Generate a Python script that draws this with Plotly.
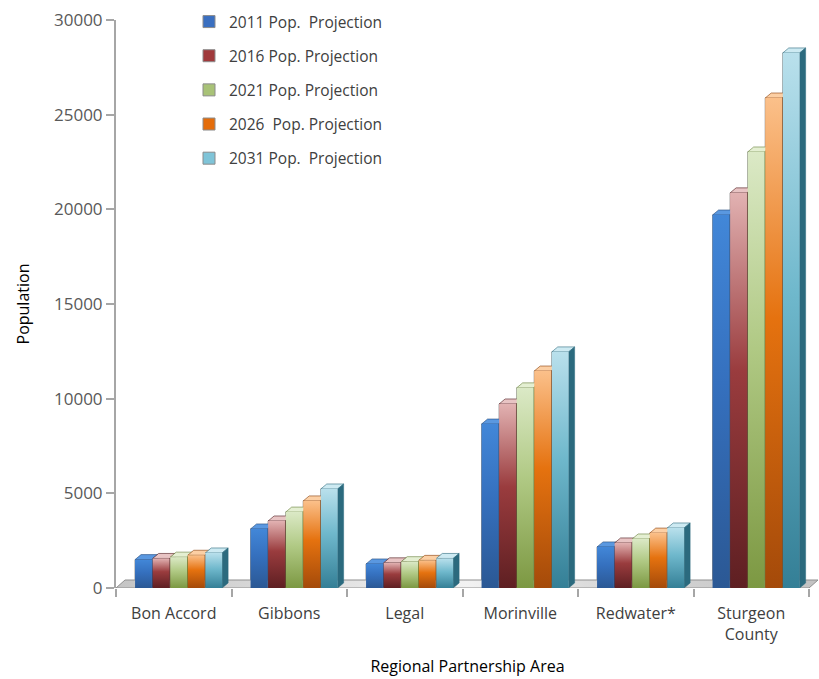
import plotly.graph_objects as go

# Regional population projections by municipality
areas = ["Bon Accord", "Gibbons", "Legal", "Morinville", "Redwater*", "Sturgeon<br>County"]
series_names = [
    "2011 Pop.  Projection",
    "2016 Pop. Projection",
    "2021 Pop. Projection",
    "2026  Pop. Projection",
    "2031 Pop.  Projection",
]
pop_2011 = [1500, 3120, 1270, 8660, 2170, 19700]
pop_2016 = [1560, 3540, 1330, 9720, 2380, 20870]
pop_2021 = [1630, 4010, 1390, 10570, 2590, 23030]
pop_2026 = [1730, 4600, 1460, 11460, 2900, 25880]
pop_2031 = [1850, 5230, 1560, 12470, 3170, 28260]
y_ticks = [0, 5000, 10000, 15000, 20000, 25000, 30000]

values = [pop_2011, pop_2016, pop_2021, pop_2026, pop_2031]

# colour ramps per series: (bottom, middle, top) of the front face, side face, top face, legend swatch
palette = [
    dict(bot="#2b5894", mid="#3570be", top="#4287d8", side="#234a7c", cap="#5a98e0", solid="#3a6fc0"),
    dict(bot="#5e1f22", mid="#9a3c3e", top="#e2b2b2", side="#4e1a1c", cap="#e8c4c4", solid="#a0393b"),
    dict(bot="#7c9842", mid="#b0c984", top="#dbe9c6", side="#66803a", cap="#e4efd2", solid="#a8c277"),
    dict(bot="#a44a0a", mid="#e5720f", top="#fbc08a", side="#8a3e08", cap="#fccfa4", solid="#e46c0a"),
    dict(bot="#347f96", mid="#6fb8cc", top="#b9e0ec", side="#2b6a7e", cap="#cdeaf2", solid="#7fc4d8"),
]

# geometry in axis units (one unit per category)
W_PX, H_PX = 819, 679
M_L, M_T, M_B, M_R = 116, 20, 91, 0
plot_w = W_PX - M_L - M_R
plot_h = H_PX - M_T - M_B
unit_px = 115.5
x_max = plot_w / unit_px
y_max = 30000
px_x = 1.0 / unit_px
px_y = y_max / plot_h

first_off = 0.165
step = 0.152
bar_w = 0.146
depth_x = 6 * px_x
depth_y = 5 * px_y

centers = [i + 0.5 for i in range(len(areas))]

fig = go.Figure()

# floor slab
n = len(areas)
fdx, fdy = 9 * px_x, 8 * px_y
fig.add_trace(go.Scatter(
    x=[0, n, n + fdx, fdx, 0], y=[0, 0, fdy, fdy, 0],
    fill="toself", mode="lines", line=dict(color="#8f8f8f", width=1),
    fillgradient=dict(type="horizontal", colorscale=[[0, "#c4c4c4"], [0.3, "#e0e0e0"], [0.5, "#f2f2f2"], [0.7, "#d8d8d8"], [1, "#c2c2c2"]]),
    hoverinfo="skip", showlegend=False,
))

# legend-carrying bar traces
for j, (name, vals) in enumerate(zip(series_names, values)):
    fig.add_trace(go.Bar(
        x=centers, y=vals, name=name,
        width=bar_w, offset=first_off + j * step - 0.5,
        marker=dict(color=palette[j]["solid"], line=dict(color="#8c8c8c", width=1)),
        legendgroup=name,
    ))

# 3D faces of each bar
for i in range(n):
    for j in range(len(values)):
        v = values[j][i]
        c = palette[j]
        x0 = i + first_off + j * step
        x1 = x0 + bar_w
        # top face
        fig.add_trace(go.Scatter(
            x=[x0, x1, x1 + depth_x, x0 + depth_x, x0],
            y=[v, v, v + depth_y, v + depth_y, v],
            fill="toself", mode="lines", fillcolor=c["cap"],
            line=dict(color=c["side"], width=0.6),
            hoverinfo="skip", showlegend=False,
        ))
        # side face
        fig.add_trace(go.Scatter(
            x=[x1, x1 + depth_x, x1 + depth_x, x1, x1],
            y=[0, depth_y, v + depth_y, v, 0],
            fill="toself", mode="lines", fillcolor=c["side"],
            line=dict(color=c["side"], width=0.5),
            hoverinfo="skip", showlegend=False,
        ))
        # front face with vertical gradient
        fig.add_trace(go.Scatter(
            x=[x0, x1, x1, x0, x0],
            y=[0, 0, v, v, 0],
            fill="toself", mode="lines", line=dict(width=0),
            fillgradient=dict(type="vertical",
                              colorscale=[[0, c["bot"]], [0.55, c["mid"]], [1, c["top"]]]),
            hoverinfo="skip", showlegend=False,
        ))

fig.update_layout(
    width=W_PX, height=H_PX,
    margin=dict(l=M_L, r=M_R, t=M_T, b=M_B),
    paper_bgcolor="white", plot_bgcolor="white",
    showlegend=True,
    barmode="overlay",
    font=dict(family="Open Sans", size=15, color="#404040"),
    legend=dict(
        x=(189 - M_L) / plot_w, y=1 + (M_T - 5) / plot_h,
        xanchor="left", yanchor="top",
        bgcolor="rgba(0,0,0,0)", itemwidth=30,
        tracegroupgap=11, font=dict(size=15.5, color="#404040"),
    ),
    xaxis=dict(
        range=[0, x_max], tickmode="array", tickvals=centers, ticktext=areas,
        ticks="", showgrid=False, zeroline=False, showline=False,
        ticklabelstandoff=14,
        tickfont=dict(size=16, color="#404040"),
        minor=dict(ticks="outside", tick0=0, dtick=1, ticklen=8, tickcolor="#a6a6a6", tickwidth=1.5, showgrid=False),
        title=dict(text="Regional Partnership Area", font=dict(size=16, color="#000000"), standoff=17),
    ),
    yaxis=dict(
        range=[0, y_max], tickvals=y_ticks, tickformat="d",
        showgrid=False, zeroline=False,
        showline=True, linecolor="#a6a6a6", linewidth=2,
        ticks="outside", ticklen=8, tickcolor="#a6a6a6", tickwidth=1.5,
        tickfont=dict(size=17, color="#595959"),
        title=dict(text="Population", font=dict(size=16, color="#000000"), standoff=20),
    ),
)

fig.write_html("out.html")
